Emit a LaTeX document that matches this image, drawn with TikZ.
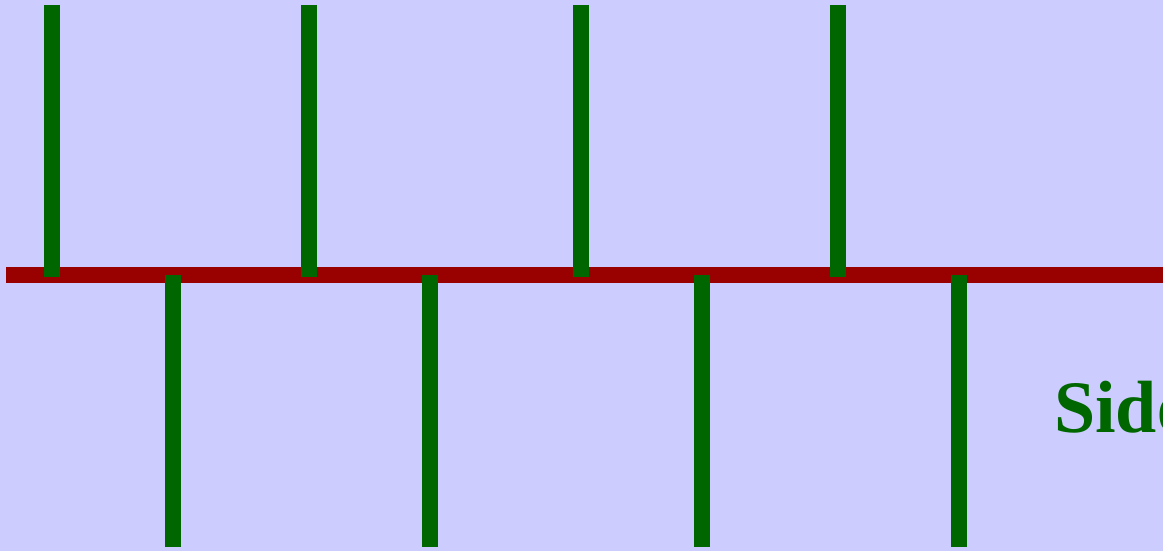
\documentclass[tikz,border=0pt]{standalone}
\usepackage{tikz}
\usepackage{xcolor}
\usepackage{fontspec}
\newfontfamily\labelfont{Liberation Serif}
\definecolor{bgblue}{HTML}{CCCCFF}
\definecolor{railred}{HTML}{990000}
\definecolor{toothgreen}{HTML}{006600}
\tikzset{
        rail_line/.style={draw=railred, line width=16pt, line cap=butt},
        tooth_bar/.style={draw=toothgreen, line width=16pt, line cap=butt},
        side_text/.style={anchor=base west, inner sep=0pt, text=toothgreen,
                          font=\labelfont\bfseries\fontsize{74}{76}\selectfont}
    }
\begin{document}
\begin{tikzpicture}[x=1pt, y=-1pt]
    \useasboundingbox (0, 0) rectangle (1163, 551);
    \clip (0, 0) rectangle (1163, 551);
    \fill[bgblue] (0, 0) rectangle (1163, 551);
    % the rail
    \draw[rail_line] (6.3, 274.7) -- (1175, 274.7);
    % bars above
    \draw[tooth_bar] (51.5, 5) -- (51.5, 277);
    \draw[tooth_bar] (308.5, 5) -- (308.5, 277);
    \draw[tooth_bar] (581, 5) -- (581, 277);
    \draw[tooth_bar] (838, 5) -- (838, 277);
    % bars below
    \draw[tooth_bar] (172.5, 275) -- (172.5, 546.7);
    \draw[tooth_bar] (429.5, 275) -- (429.5, 546.7);
    \draw[tooth_bar] (702, 275) -- (702, 546.7);
    \draw[tooth_bar] (959, 275) -- (959, 546.7);
    \node[side_text] (sidelabel) at (1054, 432.7) {Side};
\end{tikzpicture}
\end{document}
